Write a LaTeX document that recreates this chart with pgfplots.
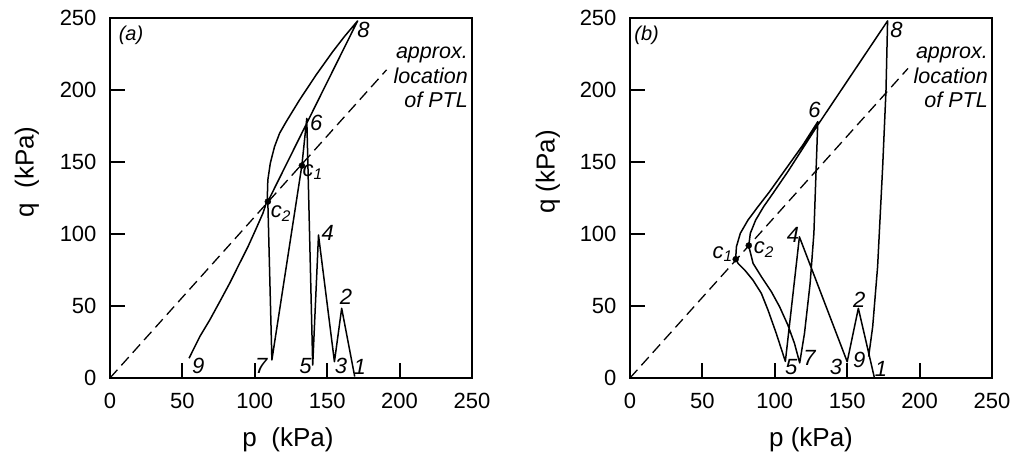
\documentclass[border=0pt]{standalone}
\usepackage{fontspec}
\setmainfont{Liberation Sans}
\usepackage{pgfplots}
\pgfplotsset{compat=1.18}
\pgfplotsset{
  panel/.style={
    scale only axis, width=362pt, height=360pt,
    xmin=0,xmax=250,ymin=0,ymax=250,
    xtick={0,50,...,250}, ytick={0,50,...,250},
    tick align=inside, tick pos=left,
    major tick length=15pt,
    every tick/.style={line width=2pt, black},
    axis line style={line width=2.2pt},
    /pgf/number format/assume math mode=true,
    tick label style={font=\fontsize{22}{22}\selectfont},
    yticklabel style={xshift=-10pt},
    xticklabel style={yshift=-12pt},
    clip=false,
  },
}
\tikzset{
  cyc/.style={black, line width=1.5pt, line join=round},
  ptl/.style={black, line width=1.3pt, dash pattern=on 11pt off 6pt},
  lab/.style={font=\fontsize{22}{22}\selectfont\itshape, inner sep=0pt},
  ann/.style={font=\fontsize{21.5}{24.5}\selectfont\itshape, align=right, anchor=north east, inner sep=0pt},
}
\begin{document}
\begin{tikzpicture}
\path[use as bounding box] (-110pt,-79pt) rectangle (903pt,378pt);
% ---------------- panel (a)
\begin{axis}[panel, at={(0pt,0pt)}]
\addplot[ptl] coordinates {(0,0) (191,214)};
\addplot[cyc] coordinates {
(169,1) (160,48.4) (155,11.3) (144,99.3) (140,9) (135.9,180.3) (132.5,147.5)
(111.8,12.5) (109,122.5) (171,248)
(161.8,237.0) (153.8,226.6) (142.3,210.4) (130.9,193.1) (121.7,178.0)
(117.1,169.9) (113.6,160.6) (110.7,149.1) (109.0,137.5) (108.6,123.6)
(105.6,114.4) (101.0,103.9) (95.3,91.2) (89.5,79.6) (82.6,65.7) (75.8,53.0)
(68.9,40.3) (62.0,28.7) (57.4,19.4) (54.6,13.7)};
\addplot[only marks, mark=*, mark size=3pt, fill=black] coordinates {(109,122.5) (132.5,147.5)};
\node[lab, font=\fontsize{20}{20}\selectfont\itshape] at (axis cs:14.5,238) {(a)};
\node[lab] at (axis cs:175,242) {8};
\node[lab] at (axis cs:142.5,177) {6};
\node[lab] at (axis cs:140,143) {c\textsubscript{1}};
\node[lab] at (axis cs:118,114) {c\textsubscript{2}};
\node[lab] at (axis cs:150.4,100.5) {4};
\node[lab] at (axis cs:163,56.5) {2};
\node[lab] at (axis cs:159.6,8.3) {3};
\node[lab] at (axis cs:172.5,8) {1};
\node[lab] at (axis cs:135,8.3) {5};
\node[lab] at (axis cs:104.5,8.3) {7};
\node[lab] at (axis cs:61,8.3) {9};
\node[ann] at (axis cs:247.2,229.9) {approx.\\location\\of PTL};
\end{axis}
\node[rotate=90, font=\fontsize{26}{26}\selectfont] at (-83pt,206pt) {q\ \ (kPa)};
\node[font=\fontsize{26}{26}\selectfont] at (178pt,-62pt) {p\ \ (kPa)};
% ---------------- panel (b)
\begin{axis}[panel, at={(520pt,0pt)}]
\addplot[ptl] coordinates {(0,0) (192,215)};
\addplot[cyc] coordinates {
(168.7,0.5) (157.7,48.4) (150,11.3) (117,98) (107.3,11.5)
(101,31) (95.3,47.2) (90.7,58.8) (84.9,68) (79.2,75) (74.6,79.6) (73,83)
(73.5,91.2) (76.2,100.5) (81.5,109.7) (88.4,119) (96.4,129.4) (107.9,145.6)
(119.4,161.8) (129.7,178)
(128.6,146.8) (127,100.5) (124.4,65.7) (120.5,31) (117.2,10.5)
(113.6,24) (109,36.8) (103.3,49.5) (97.6,60) (90.7,70.4) (85,79.6) (82,91.7)
(83.1,100.5) (86.8,109.7) (92.3,119) (98.7,128.2) (109,143.3) (129.7,175.7)
(177.9,248)
(176.8,200) (174.5,146.8) (171,77.3) (167.6,35.6) (164.8,14.8)};
\addplot[only marks, mark=*, mark size=3pt, fill=black] coordinates {(73,82.5) (82,92)};
\node[lab, font=\fontsize{20}{20}\selectfont\itshape] at (axis cs:11.5,238) {(b)};
\node[lab] at (axis cs:184,242) {8};
\node[lab] at (axis cs:127.4,186) {6};
\node[lab] at (axis cs:64,86) {c\textsubscript{1}};
\node[lab] at (axis cs:92.5,89) {c\textsubscript{2}};
\node[lab] at (axis cs:112.5,99.3) {4};
\node[lab] at (axis cs:158.4,54.2) {2};
\node[lab] at (axis cs:111.4,7.9) {5};
\node[lab] at (axis cs:124,14) {7};
\node[lab] at (axis cs:142.3,7.5) {3};
\node[lab] at (axis cs:158.4,12.5) {9};
\node[lab] at (axis cs:173.3,6.5) {1};
\node[ann] at (axis cs:247.2,229.9) {approx.\\location\\of PTL};
\end{axis}
\node[rotate=90, font=\fontsize{26}{26}\selectfont] at (438pt,206pt) {q (kPa)};
\node[font=\fontsize{26}{26}\selectfont] at (701pt,-62pt) {p (kPa)};
\end{tikzpicture}
\end{document}
